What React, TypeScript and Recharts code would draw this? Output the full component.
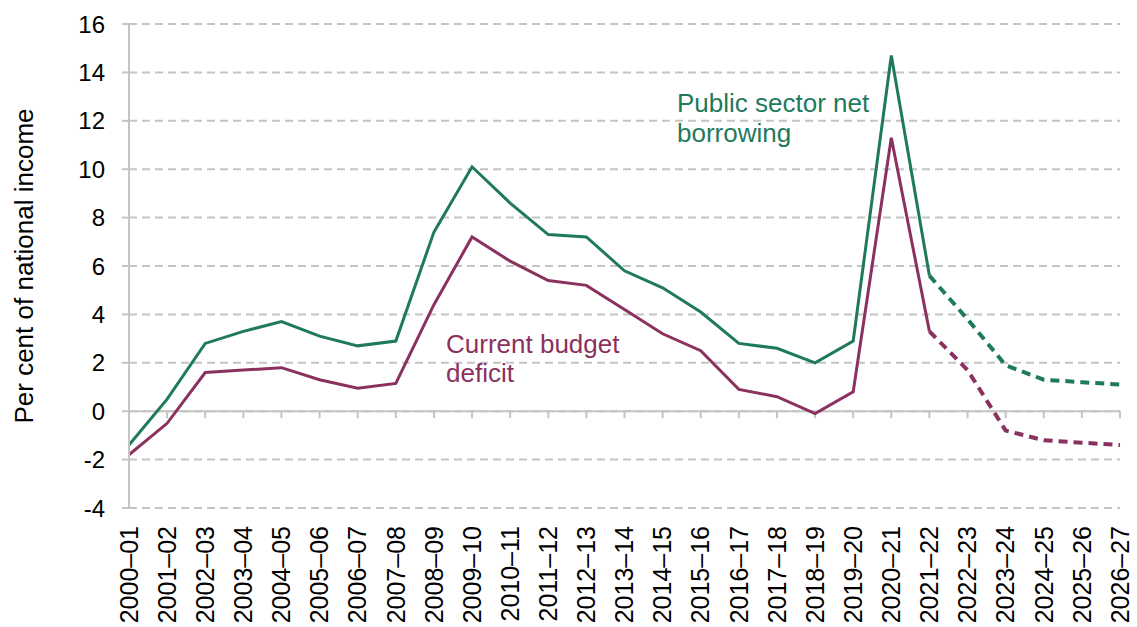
import React from "react";
import {
  CartesianGrid,
  Line,
  LineChart,
  ReferenceLine,
  XAxis,
  YAxis,
} from "recharts";

// fiscal years on the category axis
const YEARS = [
  "2000–01", "2001–02", "2002–03", "2003–04", "2004–05", "2005–06", "2006–07",
  "2007–08", "2008–09", "2009–10", "2010–11", "2011–12", "2012–13", "2013–14",
  "2014–15", "2015–16", "2016–17", "2017–18", "2018–19", "2019–20", "2020–21",
  "2021–22", "2022–23", "2023–24", "2024–25", "2025–26", "2026–27",
];

// per cent of national income
const PSNB = [
  -1.4, 0.5, 2.8, 3.3, 3.7, 3.1, 2.7, 2.9, 7.4, 10.1, 8.6, 7.3, 7.2, 5.8, 5.1,
  4.1, 2.8, 2.6, 2.0, 2.9, 14.7, 5.6, 3.8, 1.9, 1.3, 1.2, 1.1,
];
const CURRENT_DEFICIT = [
  -1.8, -0.5, 1.6, 1.7, 1.8, 1.3, 0.95, 1.15, 4.4, 7.2, 6.2, 5.4, 5.2, 4.2, 3.2,
  2.5, 0.9, 0.6, -0.1, 0.8, 11.3, 3.3, 1.7, -0.8, -1.2, -1.3, -1.4,
];

// last outturn year; forecasts are drawn dashed from here on
const LAST_OUTTURN = "2021–22";
const Y_TICKS = [-4, -2, 0, 2, 4, 6, 8, 10, 12, 14, 16];

const GREEN = "#1f7a5b";
const PURPLE = "#8b3160";
const GRID = "#c4c4c4";
const FONT = "Arial, 'Liberation Sans', sans-serif";

const splitAt = YEARS.indexOf(LAST_OUTTURN);
const rows = YEARS.map((year, i) => ({
  year,
  psnb: i <= splitAt ? PSNB[i] : null,
  psnbF: i >= splitAt ? PSNB[i] : null,
  cbd: i <= splitAt ? CURRENT_DEFICIT[i] : null,
  cbdF: i >= splitAt ? CURRENT_DEFICIT[i] : null,
}));

function YearTick(props: any) {
  const { x, y, payload } = props;
  return (
    <text
      x={x}
      y={y}
      transform={`rotate(-90, ${x}, ${y})`}
      textAnchor="end"
      dy="0.35em"
      fontSize={25}
      fontFamily={FONT}
      fill="#000"
    >
      {payload.value}
    </text>
  );
}

export default function App() {
  return (
    <div style={{ position: "absolute", left: 0, top: 0, width: 1137, height: 627, background: "#fff" }}>
      <LineChart
        width={1137}
        height={627}
        data={rows}
        margin={{ top: 24, right: 17, bottom: 0, left: 0 }}
      >
        <CartesianGrid
          vertical={false}
          stroke={GRID}
          strokeWidth={2}
          strokeDasharray="8 5"
        />
        <XAxis
          dataKey="year"
          interval={0}
          height={119}
          axisLine={false}
          tickLine={false}
          tickSize={0}
          tickMargin={18}
          tick={<YearTick />}
        />
        <YAxis
          width={129}
          domain={[-4, 16]}
          ticks={Y_TICKS}
          interval={0}
          axisLine={{ stroke: GRID, strokeWidth: 2 }}
          tickLine={{ stroke: GRID, strokeWidth: 2 }}
          tickSize={7}
          tickMargin={17}
          tick={{ fontSize: 24, fill: "#000", fontFamily: FONT }}
          label={{
            value: "Per cent of national income",
            angle: -90,
            position: "insideLeft",
            offset: 24,
            style: { textAnchor: "middle", fontSize: 26, fill: "#000", fontFamily: FONT },
          }}
        />
        <ReferenceLine y={0} stroke={GRID} strokeWidth={2} />
        {YEARS.map((yr) => (
          <ReferenceLine
            key={`tick-${yr}`}
            segment={[{ x: yr, y: 0 }, { x: yr, y: -0.29 }]}
            stroke={GRID}
            strokeWidth={2}
          />
        ))}
        <Line
          dataKey="psnb"
          stroke={GREEN}
          strokeWidth={3}
          dot={false}
          type="linear"
          isAnimationActive={false}
        />
        <Line
          dataKey="psnbF"
          stroke={GREEN}
          strokeWidth={4}
          strokeDasharray="9 6"
          dot={false}
          type="linear"
          isAnimationActive={false}
        />
        <Line
          dataKey="cbd"
          stroke={PURPLE}
          strokeWidth={3}
          dot={false}
          type="linear"
          isAnimationActive={false}
        />
        <Line
          dataKey="cbdF"
          stroke={PURPLE}
          strokeWidth={4}
          strokeDasharray="9 6"
          dot={false}
          type="linear"
          isAnimationActive={false}
        />
      </LineChart>
      <div
        style={{
          position: "absolute",
          left: 677,
          top: 88,
          color: GREEN,
          fontSize: 26,
          lineHeight: "30px",
          fontFamily: FONT,
        }}
      >
        Public sector net
        <br />
        borrowing
      </div>
      <div
        style={{
          position: "absolute",
          left: 446,
          top: 330,
          color: PURPLE,
          fontSize: 26,
          lineHeight: "29px",
          fontFamily: FONT,
        }}
      >
        Current budget
        <br />
        deficit
      </div>
    </div>
  );
}
